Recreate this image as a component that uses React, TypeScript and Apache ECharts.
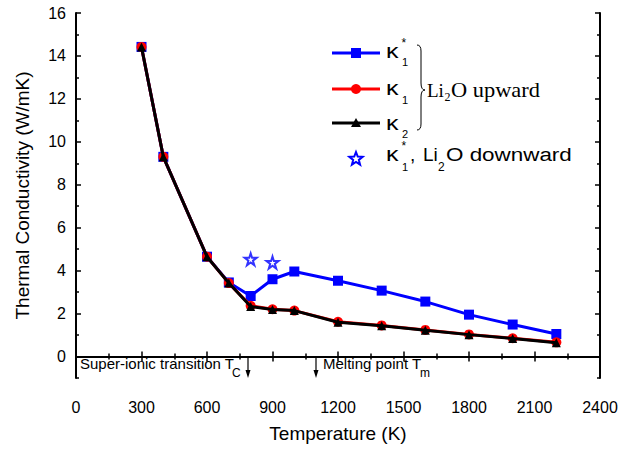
import React, { useEffect, useRef } from "react";
import * as echarts from "echarts";

const temps = [300, 400, 600, 700, 800, 900, 1000, 1200, 1400, 1600, 1800, 2000, 2200];
const kappa1Star = [14.42, 9.3, 4.65, 3.45, 2.82, 3.6, 3.96, 3.53, 3.07, 2.56, 1.95, 1.49, 1.05];
const kappa1 = [14.42, 9.3, 4.65, 3.42, 2.36, 2.2, 2.14, 1.62, 1.45, 1.24, 1.03, 0.85, 0.66];
const kappa2 = [14.42, 9.3, 4.65, 3.42, 2.33, 2.19, 2.14, 1.6, 1.43, 1.22, 1.02, 0.84, 0.64];
const downTemps = [800, 900];
const downKappa1Star = [4.53, 4.38];
const yMajor = [0, 2, 4, 6, 8, 10, 12, 14, 16];
const yMinor = [-1, 1, 3, 5, 7, 9, 11, 13, 15];

const STAR = "path://M50,0 L61.2,34.5 L97.6,34.5 L68.2,55.9 L79.4,90.5 L50,69.1 L20.6,90.5 L31.8,55.9 L2.4,34.5 L38.8,34.5 Z";
const SANS = "'Liberation Sans', Arial, sans-serif";
const SERIF = "'Liberation Serif', 'Times New Roman', serif";

function starPoints(cx: number, cy: number, R: number, r: number) {
  const pts: number[][] = [];
  for (let i = 0; i < 10; i++) {
    const a = -Math.PI / 2 + (i * Math.PI) / 5;
    const rad = i % 2 === 0 ? R : r;
    pts.push([cx + rad * Math.cos(a), cy + rad * Math.sin(a)]);
  }
  return pts;
}

export default function App() {
  const ref = useRef<HTMLDivElement>(null);
  useEffect(() => {
    if (!ref.current) return;
    echarts.graphic.registerShape(
      "brace",
      echarts.graphic.extendPath(
        "M417,45 Q421,45 421,51 L421,83 Q421,90 425,90 Q421,90 421,97 L421,124 Q421,130 417,130",
        {}
      )
    );
    const chart = echarts.init(ref.current, null, { renderer: "svg" });
    const txt = (x: number, y: number, text: string, size: number, font = SANS, sx = 1) => ({
      type: "text",
      x,
      y,
      scaleX: sx,
      style: { text, fontSize: size, fontFamily: font, fill: "#000", textVerticalAlign: "middle", textAlign: "left" },
    });
    const arrow = (x: number) => [
      { type: "line", shape: { x1: x, y1: 357, x2: x, y2: 372 }, style: { stroke: "#000", lineWidth: 1.2 } },
      { type: "polygon", shape: { points: [[x, 378], [x - 2.5, 370], [x + 2.5, 370]] }, style: { fill: "#000" } },
    ];
    const xBase = (pos: string, labels: boolean) => ({
      type: "value",
      position: pos,
      min: 0,
      max: 2400,
      interval: 300,
      axisLine: { show: true, lineStyle: { color: "#000", width: 2 } },
      splitLine: { show: false },
      axisTick: { show: true, inside: true, length: 5, lineStyle: { color: "#000", width: 1.5 } },
      minorTick: { show: true, splitNumber: 2, length: 3, lineStyle: { color: "#000", width: 1.5 } },
      axisLabel: labels
        ? { show: true, fontSize: 16, color: "#000", fontFamily: SANS, margin: 21, formatter: (v: number) => String(v) }
        : { show: false },
      ...(labels
        ? {
            name: "Temperature (K)",
            nameLocation: "middle",
            nameGap: 46,
            nameTextStyle: { fontSize: 19, color: "#000", fontFamily: SANS },
          }
        : {}),
    });
    const yBase = (pos: string, labels: boolean, minor: boolean) => ({
      type: "value",
      position: pos,
      min: -1,
      max: 16,
      interval: 1,
      axisLine: { show: !minor, lineStyle: { color: "#000", width: 2 } },
      splitLine: { show: false },
      axisTick: {
        show: true,
        inside: true,
        length: minor ? 3 : 5,
        customValues: minor ? yMinor : yMajor,
        lineStyle: { color: "#000", width: 1.5 },
      },
      axisLabel: labels
        ? { show: true, fontSize: 16, color: "#000", fontFamily: SANS, margin: 10, customValues: yMajor }
        : { show: false },
      ...(labels
        ? {
            name: "Thermal Conductivity (W/mK)",
            nameLocation: "middle",
            nameGap: 44,
            nameTextStyle: { fontSize: 19, color: "#000", fontFamily: SANS },
          }
        : {}),
    });

    const option: any = {
      animation: false,
      backgroundColor: "#fff",
      grid: { left: 76, top: 13, right: 37, bottom: 72, containLabel: false },
      xAxis: [xBase("bottom", true), xBase("top", false)],
      yAxis: [yBase("left", true, false), yBase("left", false, true), yBase("right", false, false), yBase("right", false, true)],
      series: [
        {
          type: "line",
          data: temps.map((t, i) => [t, kappa1Star[i]]),
          symbol: "rect",
          symbolSize: 10,
          lineStyle: { color: "#0000ff", width: 3 },
          itemStyle: { color: "#0000ff" },
          z: 2,
        },
        {
          type: "line",
          data: temps.map((t, i) => [t, kappa1[i]]),
          symbol: "circle",
          symbolSize: 10,
          lineStyle: { color: "#ff0000", width: 3 },
          itemStyle: { color: "#ff0000" },
          z: 3,
        },
        {
          type: "line",
          data: temps.map((t, i) => [t, kappa2[i]]),
          symbol: "triangle",
          symbolSize: 9,
          lineStyle: { color: "#000", width: 3 },
          itemStyle: { color: "#000" },
          z: 4,
        },
        {
          type: "scatter",
          data: downTemps.map((t, i) => [t, downKappa1Star[i]]),
          symbol: STAR,
          symbolSize: 12,
          itemStyle: { color: "#fff", borderColor: "#0000ff", borderWidth: 2 },
          z: 5,
        },
      ],
      graphic: [
        // legend entries
        { type: "line", shape: { x1: 332, y1: 53, x2: 380, y2: 53 }, style: { stroke: "#0000ff", lineWidth: 3 } },
        { type: "rect", shape: { x: 351, y: 48, width: 10, height: 10 }, style: { fill: "#0000ff" } },
        txt(386, 51, "κ", 20, SANS, 1.25),
        txt(402, 61.5, "1", 11),
        txt(401.5, 43, "*", 12),
        { type: "line", shape: { x1: 332, y1: 89, x2: 380, y2: 89 }, style: { stroke: "#ff0000", lineWidth: 3 } },
        { type: "circle", shape: { cx: 356, cy: 89, r: 5 }, style: { fill: "#ff0000" } },
        txt(386, 88, "κ", 20, SANS, 1.25),
        txt(402, 100, "1", 11),
        { type: "line", shape: { x1: 332, y1: 123, x2: 380, y2: 123 }, style: { stroke: "#000", lineWidth: 3 } },
        { type: "polygon", shape: { points: [[356, 118], [351, 127], [361, 127]] }, style: { fill: "#000" } },
        txt(386, 123, "κ", 20, SANS, 1.25),
        txt(402, 134, "2", 11),
        { type: "brace", x: 0, y: 0, style: { stroke: "#000", fill: null, lineWidth: 1 } },
        txt(427, 90, "Li", 19, SERIF),
        txt(444.5, 97, "2", 12, SERIF),
        txt(451, 90, "O upward", 20, SERIF, 1.12),
        { type: "polygon", shape: { points: starPoints(356, 159, 7, 3) }, style: { fill: "#fff", stroke: "#0000ff", lineWidth: 2 } },
        txt(386, 154, "κ", 20, SANS, 1.25),
        txt(402, 167, "1", 11),
        txt(401.5, 146, "*", 12),
        txt(410, 154, ",", 19),
        txt(423, 154, "Li", 19),
        txt(438, 167, "2", 12),
        txt(446, 154, "O downward", 19, SANS, 1.18),
        // annotations
        txt(80, 363, "Super-ionic transition T", 15),
        txt(232, 373, "C", 12),
        ...arrow(248),
        ...arrow(316),
        txt(323, 363, "Melting point T", 15),
        txt(420, 373, "m", 12),
      ],
    };
    chart.setOption(option);
    return () => chart.dispose();
  }, []);
  return <div ref={ref} style={{ position: "absolute", left: 0, top: 0, width: 637, height: 450 }} />;
}
